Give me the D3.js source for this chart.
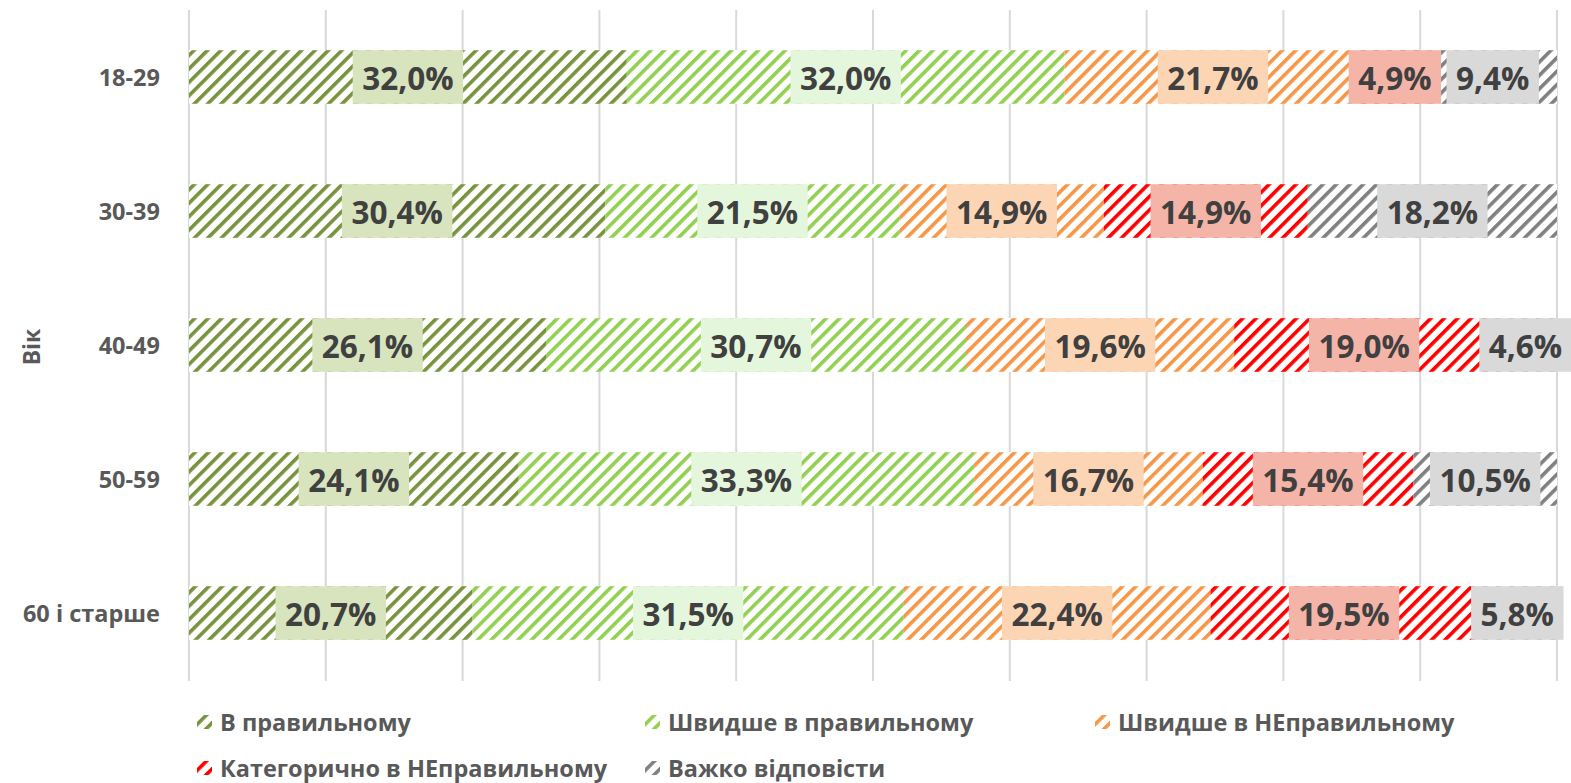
<!DOCTYPE html>
<html>
<head>
<meta charset="utf-8">
<script src="https://cdn.jsdelivr.net/npm/d3@7"></script>
<style>
  body { margin: 0; background: #fff; }
  text { font-family: "Open Sans", sans-serif; font-weight: bold; }
</style>
</head>
<body>
<svg id="chart" width="1571" height="783"></svg>
<script>
// age groups, top to bottom
const ages = ['18-29', '30-39', '40-49', '50-59', '60 і старше'];
const seriesNames = ['В правильному', 'Швидше в правильному', 'Швидше в НЕправильному', 'Категорично в НЕправильному', 'Важко відповісти'];
// values in %, one array per series, in the order of ages
const vRight       = [32.0, 30.4, 26.1, 24.1, 20.7];
const vRatherRight = [32.0, 21.5, 30.7, 33.3, 31.5];
const vRatherWrong = [21.7, 14.9, 19.6, 16.7, 22.4];
const vWrong       = [4.9, 14.9, 19.0, 15.4, 19.5];
const vHard        = [9.4, 18.2, 4.6, 10.5, 5.8];
const xTicks = [0, 0.1, 0.2, 0.3, 0.4, 0.5, 0.6, 0.7, 0.8, 0.9, 1];

const stripeColors = ['#77933C', '#92D050', '#F79646', '#FF0000', '#808080'];
const labelFills = ['#D7E4BD', '#E4F6DB', '#FCD5B5', '#F5B4A8', '#D9D9D9'];

const series = [vRight, vRatherRight, vRatherWrong, vWrong, vHard];

const svg = d3.select('#chart');
const x = d3.scaleLinear().domain([0, 1]).range([189, 1557]);
const y = d3.scaleBand().domain(ages).range([10, 680]).paddingInner(0.6).paddingOuter(0.3);

// hatch patterns
const defs = svg.append('defs');
stripeColors.forEach((c, i) => {
    const p = defs.append('pattern')
        .attr('id', 'hatch' + i)
        .attr('patternUnits', 'userSpaceOnUse')
        .attr('width', 9.5).attr('height', 9.5)
        .attr('patternTransform', 'rotate(45)');
    p.append('rect').attr('width', 9.5).attr('height', 9.5).attr('fill', '#fff');
    p.append('rect').attr('x', 0).attr('width', 3.6).attr('height', 9.5).attr('fill', c);
});

// gridlines
svg.append('g').selectAll('line')
    .data(xTicks)
    .enter().append('line')
    .attr('x1', d => x(d)).attr('x2', d => x(d))
    .attr('y1', 10).attr('y2', 681)
    .attr('stroke', '#D9D9D9').attr('stroke-width', 2);

// build stacked rows (normalized to 100%)
const rows = ages.map((age, r) => {
    const total = d3.sum(series, s => s[r]);
    let acc = 0;
    return series.map((s, k) => {
        const seg = { age: age, k: k, v: s[r], x0: acc / total, x1: (acc + s[r]) / total };
        acc += s[r];
        return seg;
    });
});
const segs = rows.flat();

const bars = svg.append('g');
bars.selectAll('rect')
    .data(segs)
    .enter().append('rect')
    .attr('x', d => x(d.x0))
    .attr('y', d => y(d.age))
    .attr('width', d => x(d.x1) - x(d.x0))
    .attr('height', y.bandwidth())
    .attr('fill', d => 'url(#hatch' + d.k + ')');

// data labels with boxes
const lbl = svg.append('g').selectAll('g')
    .data(segs)
    .enter().append('g');
lbl.each(function(d) {
    const gg = d3.select(this);
    const cx = (x(d.x0) + x(d.x1)) / 2;
    const cy = y(d.age) + y.bandwidth() / 2;
    const box = gg.append('rect');
    const t = gg.append('text')
        .attr('x', cx).attr('y', cy)
        .attr('text-anchor', 'middle')
        .attr('dominant-baseline', 'central')
        .attr('font-size', 31.5)
        .attr('fill', '#404040')
        .text(d.v.toFixed(1).replace('.', ',') + '%');
    const w = t.node().getComputedTextLength() + 19;
    box.attr('x', cx - w / 2).attr('y', y(d.age))
        .attr('width', w).attr('height', y.bandwidth())
        .attr('fill', labelFills[d.k]);
});

// category labels
svg.append('g').selectAll('text')
    .data(ages)
    .enter().append('text')
    .attr('x', 160)
    .attr('y', d => y(d) + y.bandwidth() / 2)
    .attr('text-anchor', 'end')
    .attr('dominant-baseline', 'central')
    .attr('font-size', 23.5)
    .attr('fill', '#595959')
    .text(d => d);

// axis title
svg.append('text')
    .attr('transform', 'translate(31,347) rotate(-90)')
    .attr('text-anchor', 'middle')
    .attr('dominant-baseline', 'central')
    .attr('font-size', 23)
    .attr('fill', '#595959')
    .text('Вік');

// legend
const legendPos = [[197, 722], [645, 722], [1095, 722], [197, 768], [645, 768]];
const leg = svg.append('g').selectAll('g')
    .data(seriesNames)
    .enter().append('g')
    .attr('transform', (d, i) => 'translate(' + legendPos[i][0] + ',' + legendPos[i][1] + ')');
leg.append('rect')
    .attr('x', 0).attr('y', -7)
    .attr('width', 15).attr('height', 14)
    .attr('fill', (d, i) => 'url(#hatch' + i + ')');
leg.append('text')
    .attr('x', 23).attr('y', 0)
    .attr('dominant-baseline', 'central')
    .attr('font-size', 23.5)
    .attr('fill', '#595959')
    .text(d => d);
</script>
</body>
</html>
